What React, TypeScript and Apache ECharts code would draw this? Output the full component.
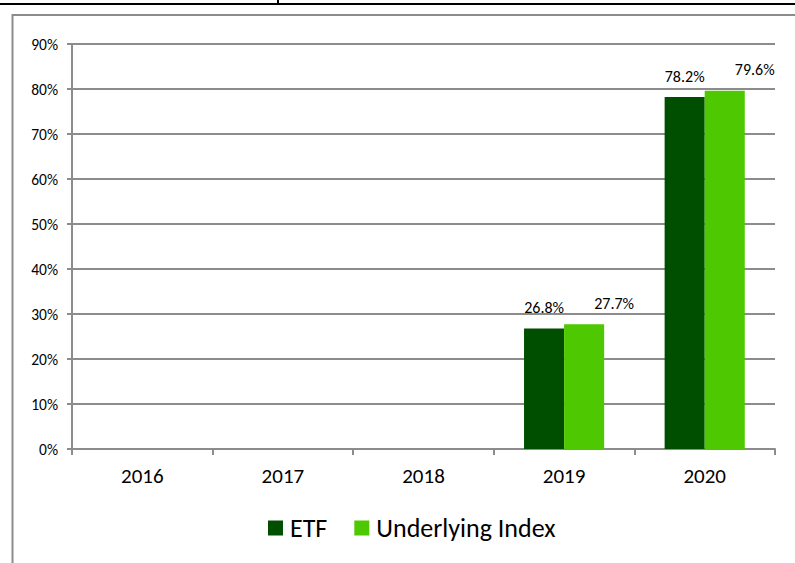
import React, { useEffect, useRef } from "react";
import * as echarts from "echarts";

const categories = ["2016", "2017", "2018", "2019", "2020"];
const etfValues: (number | null)[] = [null, null, null, 26.8, 78.2];
const indexValues: (number | null)[] = [null, null, null, 27.7, 79.6];
const seriesNames = ["ETF", "Underlying Index"];

const FONT = "Carlito, Calibri, Lato, sans-serif";
const GRAY = "#8c8c8c";

export default function App() {
  const ref = useRef<HTMLDivElement>(null);
  useEffect(() => {
    if (!ref.current) return;
    const chart = echarts.init(ref.current, null, { renderer: "svg" });
    const fmt = (p: any) => (p.value == null ? "" : Number(p.value).toFixed(1) + "%");
    chart.setOption({
      animation: false,
      backgroundColor: "#fff",
      textStyle: { fontFamily: FONT },
      graphic: [
        { type: "rect", shape: { x: 0, y: 3, width: 795, height: 2 }, style: { fill: "#000" } },
        { type: "rect", shape: { x: 277, y: 0, width: 2, height: 4 }, style: { fill: "#000" } },
        {
          type: "polyline",
          shape: { points: [[12.5, 563], [12.5, 15], [795, 15]] },
          style: { stroke: GRAY, lineWidth: 2, fill: "none" },
        },
      ],
      grid: { left: 72, right: 20, top: 44, bottom: 114, containLabel: false },
      legend: {
        data: seriesNames,
        left: 268,
        top: 515,
        padding: 0,
        icon: "rect",
        itemWidth: 15,
        itemHeight: 15,
        itemGap: 27,
        textStyle: { fontFamily: FONT, fontSize: 26, color: "#000", padding: [0, 0, 0, 2] },
      },
      xAxis: {
        type: "category",
        data: categories,
        axisLine: { lineStyle: { color: GRAY, width: 2 } },
        axisTick: { show: true, length: 6, lineStyle: { color: GRAY, width: 2 } },
        axisLabel: { fontFamily: FONT, fontSize: 21, color: "#000", margin: 16 },
      },
      yAxis: {
        type: "value",
        min: 0,
        max: 90,
        interval: 10,
        axisLine: { show: true, lineStyle: { color: GRAY, width: 2 } },
        axisTick: { show: true, length: 5, lineStyle: { color: GRAY, width: 2 } },
        splitLine: { lineStyle: { color: GRAY, width: 2 } },
        axisLabel: { fontFamily: FONT, fontSize: 15.5, color: "#000", margin: 14, formatter: "{value}%" },
      },
      series: [
        {
          name: seriesNames[0],
          type: "bar",
          data: etfValues,
          barGap: "0%",
          barCategoryGap: "43%",
          itemStyle: { color: "#004f00" },
          label: { show: true, position: "top", distance: 13, fontFamily: FONT, fontSize: 16, color: "#000", formatter: fmt },
        },
        {
          name: seriesNames[1],
          type: "bar",
          data: indexValues,
          barGap: "0%",
          barCategoryGap: "43%",
          itemStyle: { color: "#4ec800" },
          label: { show: true, position: "top", distance: 13, offset: [30, 0], fontFamily: FONT, fontSize: 16, color: "#000", formatter: fmt },
        },
      ],
    });
    return () => chart.dispose();
  }, []);
  return <div ref={ref} style={{ position: "fixed", left: 0, top: 0, width: 795, height: 563 }} />;
}
